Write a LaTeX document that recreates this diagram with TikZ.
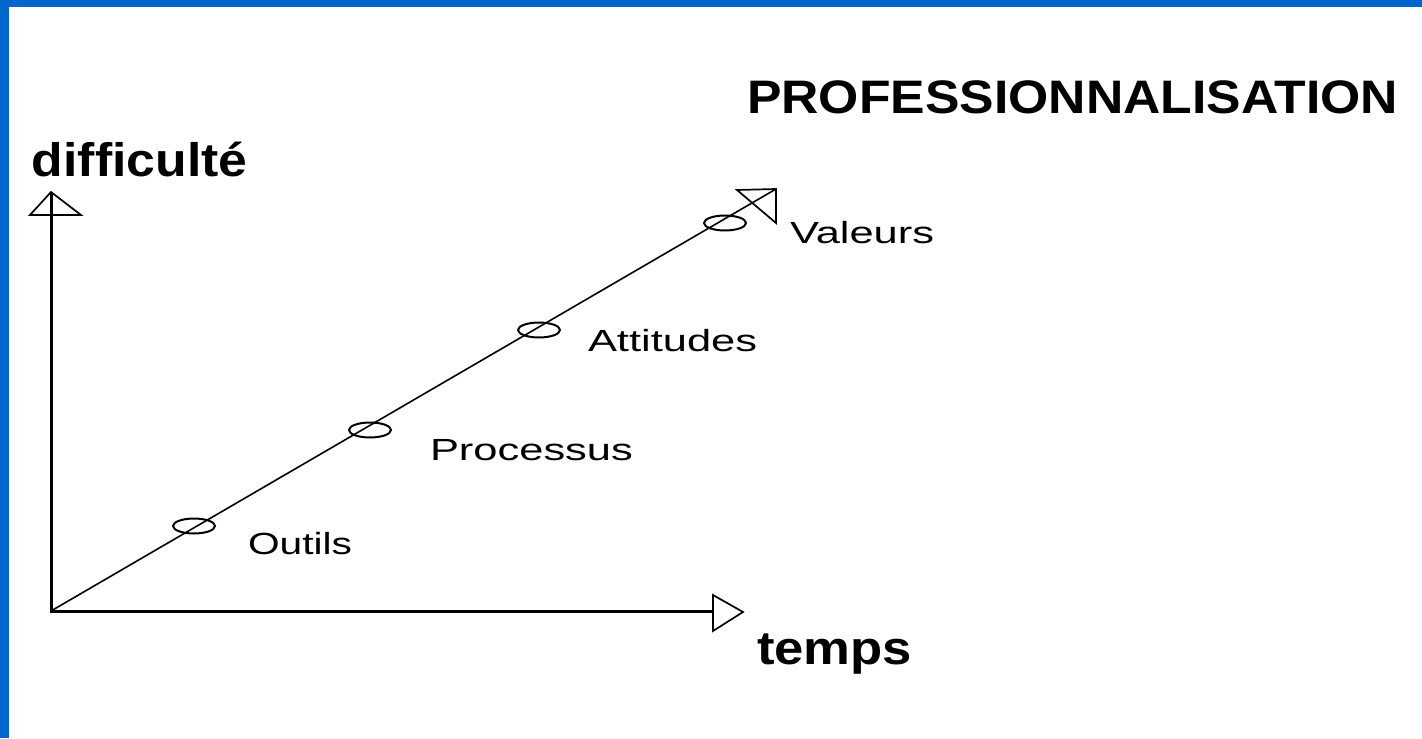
\documentclass[tikz,border=0pt]{standalone}
\usepackage{fontspec}
\setmainfont{Liberation Sans}
\usetikzlibrary{shapes.geometric}
\definecolor{frameblue}{HTML}{0066CC}
\newcommand{\boldlbl}[2]{\scalebox{#1}[1]{\fontsize{23.5}{28}\selectfont\bfseries #2}}
\newcommand{\reglbl}[2][1.42]{\scalebox{#1}[1]{\fontsize{15.3}{18}\selectfont #2}}
\tikzset{
  txt/.style={anchor=base west, inner sep=0pt, outer sep=0pt},
  axisline/.style={line width=1.5pt, line cap=butt},
  headline/.style={line width=0.85pt, line join=miter},
  diagline/.style={line width=0.8pt},
  milestone/.style={ellipse, draw, line width=1pt, minimum width=21pt, minimum height=7.5pt, inner sep=0pt}
}
\begin{document}
\begin{tikzpicture}[x=0.5pt,y=-0.5pt]
\useasboundingbox (0,0) rectangle (1422,738);
\fill[white] (0,0) rectangle (1422,738);
\fill[frameblue] (0,0) rectangle (1422,7);
\fill[frameblue] (0,0) rectangle (9,738);

% key points
\coordinate (O) at (51,611);
\coordinate (Ytip) at (51,192);
\coordinate (Xtip) at (743,612);
\coordinate (Dtip) at (776,189);

% diagonal progression line
\draw[diagline] (O) -- (Dtip);
% diagonal arrowhead (open)
\draw[headline] (Dtip) -- (737,190) -- (776,223) -- cycle;

% axes
\draw[axisline] (51,612.5) -- (Ytip);
\draw[axisline] (49.5,611) -- (713,611);
% vertical arrowhead (open triangle)
\draw[headline] (Ytip) -- (30,215) -- (81,215) -- cycle;
\draw[line width=1.2pt] (30,215) -- (81,215);
% horizontal arrowhead (open triangle)
\draw[headline] (Xtip) -- (713,595) -- (713,631) -- cycle;
\draw[line width=1.2pt] (713,595) -- (713,631);

% milestones on the line
\node[milestone] (m1) at (194,526) {};
\node[milestone] (m2) at (370,430) {};
\node[milestone] (m3) at (539,330) {};
\node[milestone] (m4) at (725,223) {};

% labels
\node[txt] (title) at (747,113) {\boldlbl{1.10}{PROFESSIONNALISATION}};
\node[txt] (ylab) at (32,176) {\boldlbl{1.10}{difficulté}};
\node[txt] (xlab) at (757,664) {\boldlbl{1.12}{temps}};
\node[txt] (l1) at (248,554) {\reglbl[1.33]{Outils}};
\node[txt] (l2) at (430,460) {\reglbl{Processus}};
\node[txt] (l3) at (588,351) {\reglbl{Attitudes}};
\node[txt] (l4) at (790,243) {\reglbl{Valeurs}};
\end{tikzpicture}
\end{document}
